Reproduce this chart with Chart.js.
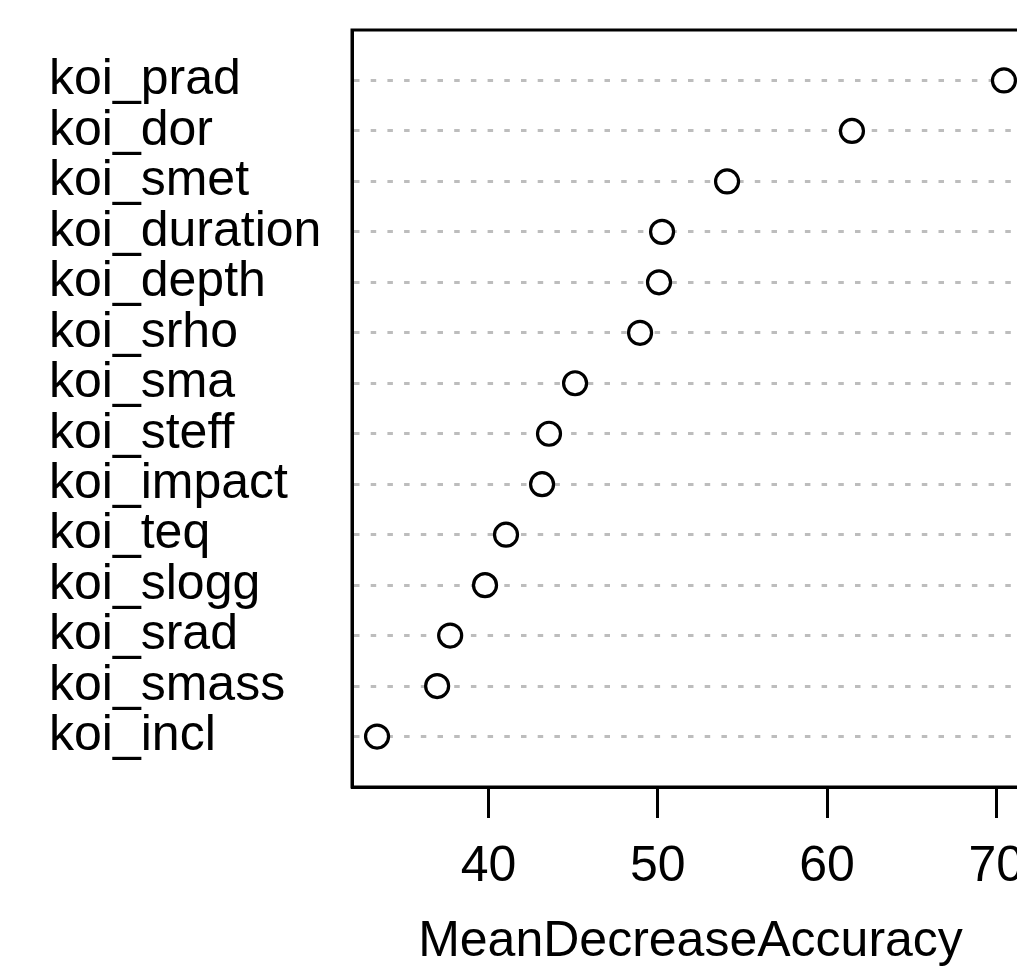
<!DOCTYPE html>
<html>
<head>
<meta charset="utf-8">
<script src="https://cdn.jsdelivr.net/npm/chart.js@4/dist/chart.umd.min.js"></script>
<style>
  html, body { margin: 0; padding: 0; background: #fff; overflow: hidden; }
  canvas { display: block; }
</style>
</head>
<body>
<canvas id="chart" width="1050" height="967"></canvas>
<script>
// variable importance, top to bottom
const features = [
    "koi_prad", "koi_dor", "koi_smet", "koi_duration", "koi_depth",
    "koi_srho", "koi_sma", "koi_steff", "koi_impact", "koi_teq",
    "koi_slogg", "koi_srad", "koi_smass", "koi_incl",
];
const meanDecreaseAccuracy = [
    70.45, 61.47, 54.09, 50.25, 50.07,
    48.95, 45.11, 43.57, 43.16, 41.03,
    39.79, 37.73, 36.96, 33.41,
];
const xTicks = [40, 50, 60, 70];

const FONT = "'Liberation Sans', Arial, Helvetica, sans-serif";

// R draws a full box around the plot region
const boxPlugin = {
    id: "box",
    afterDraw(chart) {
        const { ctx, chartArea } = chart;
        ctx.save();
        ctx.strokeStyle = "#000";
        ctx.lineWidth = 3;
        ctx.strokeRect(chartArea.left, chartArea.top,
            chartArea.right - chartArea.left, chartArea.bottom - chartArea.top);
        ctx.restore();
    },
};

const points = meanDecreaseAccuracy.map((v, i) => ({ x: v, y: i + 1 }));

new Chart(document.getElementById("chart"), {
    type: "scatter",
    data: {
        datasets: [
            {
                data: points,
                pointRadius: 11.5,
                pointHoverRadius: 11.5,
                pointBorderWidth: 3.2,
                pointBorderColor: "#000",
                pointBackgroundColor: "#fff",
            },
        ],
    },
    options: {
        responsive: false,
        animation: false,
        layout: { padding: { left: 49, top: 30, right: 21, bottom: 0 } },
        plugins: {
            legend: { display: false },
            tooltip: { enabled: false },
        },
        scales: {
            x: {
                type: "linear",
                min: 31.93,
                max: 71.93,
                afterBuildTicks: (scale) => {
                    scale.ticks = xTicks.map((v) => ({ value: v }));
                },
                afterFit: (scale) => {
                    scale.height = 180;
                    scale.paddingLeft = 0;
                    scale.paddingRight = 0;
                },
                grid: {
                    drawOnChartArea: false,
                    drawTicks: true,
                    tickLength: 31,
                    tickColor: "#000",
                    tickWidth: 3,
                },
                border: { display: true, color: "#000", width: 3 },
                ticks: {
                    color: "#000",
                    padding: 19,
                    maxRotation: 0,
                    font: { family: FONT, size: 50 },
                },
                title: {
                    display: true,
                    text: "MeanDecreaseAccuracy",
                    color: "#000",
                    font: { family: FONT, size: 50, lineHeight: 1 },
                    padding: { top: 0, bottom: 0 },
                },
            },
            y: {
                type: "linear",
                reverse: true,
                min: 0,
                max: 15,
                afterBuildTicks: (scale) => {
                    scale.ticks = features.map((f, i) => ({ value: i + 1 }));
                },
                afterFit: (scale) => {
                    scale.width = 303;
                    scale.paddingTop = 0;
                    scale.paddingBottom = 0;
                },
                grid: {
                    drawTicks: false,
                    color: "#bdbdbd",
                    lineWidth: 3,
                },
                border: { display: true, color: "#000", width: 3, dash: [5.5, 11.2] },
                ticks: {
                    color: "#000",
                    crossAlign: "far",
                    autoSkip: false,
                    font: { family: FONT, size: 50 },
                    callback: (value) => features[value - 1] || "",
                },
            },
        },
    },
    plugins: [boxPlugin],
});
</script>
</body>
</html>
